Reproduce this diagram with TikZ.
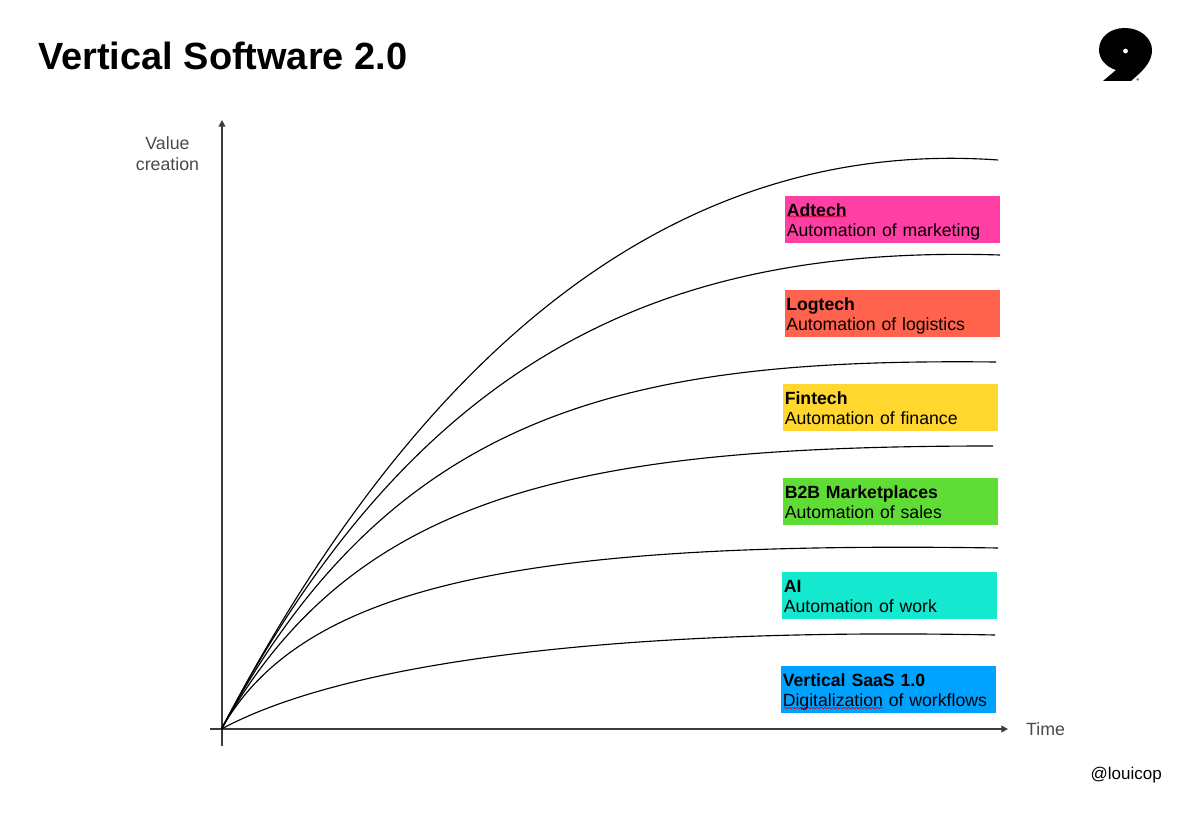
\documentclass[tikz,border=0pt]{standalone}
\usepackage{fontspec}
\setmainfont{Liberation Sans}
\usetikzlibrary{arrows.meta,decorations.pathmorphing}
\definecolor{cadtech}{HTML}{FF3FA4}
\definecolor{clog}{HTML}{FF634D}
\definecolor{cfin}{HTML}{FFD72E}
\definecolor{cb2b}{HTML}{5FDC35}
\definecolor{cai}{HTML}{14E8CF}
\definecolor{csaas}{HTML}{00A2FF}
\definecolor{axisgrey}{HTML}{3C3C3C}
\definecolor{labelgrey}{HTML}{4A4A4A}
\newcommand{\bandtext}[2]{\rule{0pt}{13.6pt}\hspace*{1.2pt}\textbf{#1}\\\hspace*{1.2pt}#2\rule[-3pt]{0pt}{3pt}}
\tikzset{
  x=0.75pt,y=-0.75pt,
  band/.style={anchor=north west,minimum width=161.25pt,minimum height=35.25pt,inner sep=0pt,outer sep=0pt,text width=161pt,align=left,font=\fontsize{13.25}{15.6}\selectfont,text=black},
  axisline/.style={draw=axisgrey,line width=1.25pt,-{Triangle[length=5pt,width=5pt]}},
  curveline/.style={draw=black,line width=0.85pt},
  axislabel/.style={font=\fontsize{13.3}{15.8}\selectfont,text=labelgrey,align=center},
  squiggle/.style={draw=red!85!black,line width=0.45pt,decorate,decoration={snake,amplitude=0.5pt,segment length=3pt}}
}
\begin{document}
\begin{tikzpicture}
\useasboundingbox (0,0) rectangle (1200,813);
\fill[white] (0,0) rectangle (1200,813);
\node[anchor=base west,inner sep=0pt,font=\bfseries\fontsize{28.45}{30}\selectfont] (title) at (38,69.5) {Vertical Software 2.0};

% boxes
\node[band,fill=cadtech] (adtech) at (785,196) {\bandtext{Adtech}{Automation of marketing}};
\node[band,fill=clog] (logtech) at (784.5,290) {\bandtext{Logtech}{Automation of logistics}};
\node[band,fill=cfin] (fintech) at (783,384) {\bandtext{Fintech}{Automation of finance}};
\node[band,fill=cb2b] (b2b) at (783,478) {\bandtext{B2B Marketplaces}{Automation of sales}};
\node[band,fill=cai] (ai) at (782,572) {\bandtext{AI}{Automation of work}};
\node[band,fill=csaas] (saas) at (781,666) {\bandtext{Vertical SaaS 1.0}{Digitalization of workflows}};
\coordinate (sq1) at (783.5,708);
\coordinate (sq2) at (883,708);
\draw[squiggle] (sq1) -- (sq2);
\coordinate (sq3) at (787,216.5);
\coordinate (sq4) at (846,216.5);
\draw[squiggle] (sq3) -- (sq4);

% axes
\coordinate (o) at (221.5,729);
\coordinate (yb) at (222,746);
\coordinate (yt) at (222,120);
\coordinate (xl) at (210,729);
\coordinate (xr) at (1008,729);
\draw[axisline] (yb) -- (yt);
\draw[axisline] (xl) -- (xr);

\node[axislabel] (vc) at (167.5,153.5) {Value\\creation};
\node[axislabel] (time) at (1045.5,729.5) {Time};
\node[anchor=base east,inner sep=0pt,font=\fontsize{12.75}{15}\selectfont] (handle) at (1162,779) {@louicop};

% curves
\coordinate (e1) at (998,160);
\coordinate (e2) at (1000,255);
\coordinate (e3) at (996,362);
\coordinate (e4) at (993,446);
\coordinate (e5) at (998,548);
\coordinate (e6) at (995,635);
\draw[curveline] (o) .. controls (430,330) and (690,138) .. (e1);
\draw[curveline] (o) .. controls (420,350) and (670,245) .. (e2);
\draw[curveline] (o) .. controls (395,405) and (635,358) .. (e3);
\draw[curveline] (o) .. controls (355,490) and (585,446) .. (e4);
\draw[curveline] (o) .. controls (305,580) and (540,541) .. (e5);
\draw[curveline] (o) .. controls (340,665) and (600,627) .. (e6);

% logo
\fill[black] (1103,81) -- (1116,70) .. controls (1106,67) and (1099,59) .. (1099,50)
  .. controls (1099,37) and (1110,28) .. (1125,28)
  .. controls (1140,28) and (1152,38) .. (1152,50)
  .. controls (1152,58) and (1148,65) .. (1140,73) -- (1131,81) -- cycle;
\fill[white] (1125.5,51) circle[radius=2.4];
\fill[gray] (1137.7,79.3) circle[radius=1.5];
\end{tikzpicture}
\end{document}
